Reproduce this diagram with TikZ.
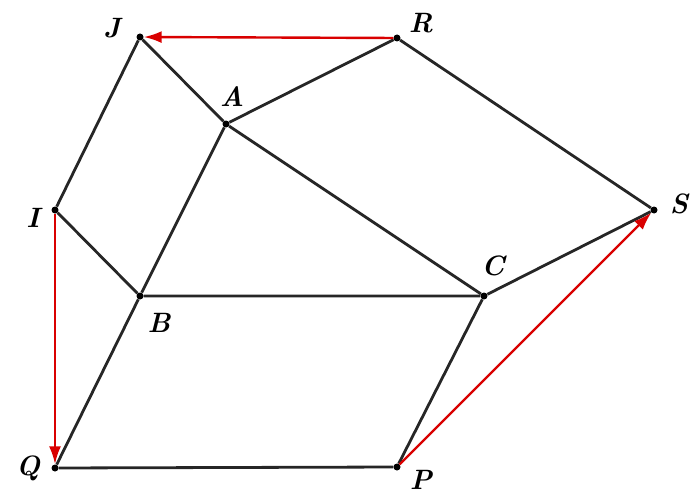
\documentclass[tikz,border=0pt]{standalone}
\usetikzlibrary{arrows.meta}
\begin{document}
\begin{tikzpicture}[x=1pt,y=-1pt,
  pt/.style={circle,fill=black,inner sep=0pt,minimum size=7pt},
  lbl/.style={font=\huge\bfseries\itshape,scale=1.35,inner sep=1pt},
  edge/.style={line width=2.8pt,black!85},
  vec/.style={line width=2.4pt,red!85!black,-{Latex[length=18pt,width=12pt]}}]
\useasboundingbox (0,0) rectangle (691,495);
\node[pt] (J) at (140,37) {};
\node[pt] (R) at (397,38) {};
\node[pt] (A) at (226,124) {};
\node[pt] (I) at (55,210) {};
\node[pt] (S) at (654,210) {};
\node[pt] (B) at (140,296) {};
\node[pt] (C) at (484,296) {};
\node[pt] (Q) at (55,468) {};
\node[pt] (P) at (397,467) {};
\node[lbl] (lJ) at (112,28) {J};
\node[lbl] (lR) at (421,23) {R};
\node[lbl] (lA) at (232,97) {A};
\node[lbl] (lI) at (33,218) {I};
\node[lbl] (lS) at (679,204) {S};
\node[lbl] (lC) at (493,266) {C};
\node[lbl] (lB) at (159,323) {B};
\node[lbl] (lQ) at (28,468) {Q};
\node[lbl] (lP) at (421,480) {P};
\draw[edge] (J) -- (A) -- (R) -- (S) -- (C);
\draw[edge] (A) -- (C);
\draw[edge] (A) -- (B);
\draw[edge] (J) -- (I) -- (B) -- (C);
\draw[edge] (B) -- (Q) -- (P) -- (C);
\draw[vec] (R) -- (J);
\draw[vec] (I) -- (Q);
\draw[vec] (P) -- (S);
\end{tikzpicture}
\end{document}
